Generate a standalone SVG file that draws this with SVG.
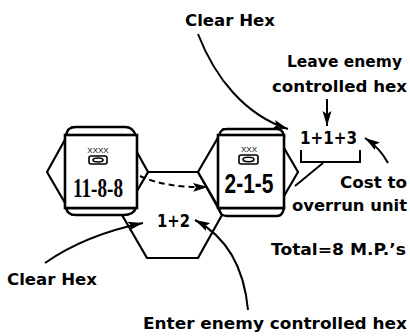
<svg xmlns="http://www.w3.org/2000/svg" width="410" height="336" viewBox="0 0 410 336">
<style>
.hex{fill:#fff;stroke:#000;stroke-width:2.2;stroke-linejoin:round}
.slab{fill:#fff;stroke:#000;stroke-width:2.4}
.ctr{fill:#fff;stroke:#000;stroke-width:2.6}
.lbl{font-family:"DejaVu Sans","Liberation Sans",sans-serif;font-weight:bold;font-size:16px;fill:#000}
.num{font-family:"DejaVu Sans","Liberation Sans",sans-serif;font-weight:bold;fill:#000}
.sz{font-family:"Liberation Sans",sans-serif;font-size:8px;fill:#000}
.sym{fill:#fff;stroke:#000;stroke-width:1.6}
.ln{fill:none;stroke:#000;stroke-width:2}
</style>
<defs>
<marker id="ah" markerUnits="userSpaceOnUse" markerWidth="16" markerHeight="10" refX="15" refY="5" orient="auto">
<path d="M0,0.5 L15,5 L0,9.5 L3,5 Z" fill="#000"/>
</marker>
</defs>

<g id="hex-middle">
<polygon class="hex" points="122,215 148,172 198,172 222,215 198,258 147,258"/>
</g>
<g id="hex-left">
<polygon class="hex" points="47,172 72,127 123,127 148,172 123,215 72,215"/>
</g>
<g id="hex-right">
<polygon class="hex" points="198,172 223,129 273,129 298,172 273,215 223,215"/>
</g>

<g id="counter-11-8-8">
<path class="slab" d="M66,136 C67,129 70,127 76,127 L125,127 C131,127 134,130 136,136 Z"/>
<path class="slab" d="M66,208 C67,213 70,215 76,215 L124,215 C130,215 134,213 136,208 Z"/>
<rect class="ctr" x="65" y="135" width="72" height="73"/>
<text class="sz" x="98" y="153" text-anchor="middle">XXXX</text>
<rect class="sym" x="89" y="156" width="18" height="8" rx="2"/>
<ellipse class="sym" cx="98" cy="160" rx="5" ry="2"/>
<text x="98" y="197" text-anchor="middle" font-family="'Liberation Serif',serif" font-weight="bold" font-size="28" textLength="50" lengthAdjust="spacingAndGlyphs">11-8-8</text>
</g>

<g id="counter-2-1-5">
<path class="slab" d="M219,136 C220,131 222,129 227,129 L277,129 C281,129 283,131 284,136 Z"/>
<path class="slab" d="M219,208 C220,214 222,216 227,216 L277,216 C281,216 283,214 284,208 Z"/>
<rect class="ctr" x="218" y="135" width="66" height="73"/>
<text class="sz" x="249" y="152" text-anchor="middle">XXX</text>
<rect class="sym" x="239" y="155" width="19" height="9" rx="2"/>
<ellipse class="sym" cx="248.5" cy="159.5" rx="5.5" ry="2.2"/>
<text x="249" y="193" text-anchor="middle" font-family="'Liberation Sans',sans-serif" font-weight="bold" font-size="27" textLength="49" lengthAdjust="spacingAndGlyphs">2-1-5</text>
</g>

<g id="connectors">
<path class="ln" d="M140,176 Q166,188 208,187" stroke-dasharray="6,4" marker-end="url(#ah)"/>
<path class="ln" d="M198,34 C215,78 245,115 288,129" marker-end="url(#ah)"/>
<path class="ln" d="M327,99 L327,126" marker-end="url(#ah)"/>
<path class="ln" d="M388,163 Q380,148 365,138" marker-end="url(#ah)"/>
<path class="ln" d="M301,150 L301,162 L360,162 L360,150"/>
<path class="ln" d="M323,163 L295,186"/>
<path class="ln" d="M45,263 Q85,235 143,223" marker-end="url(#ah)"/>
<path class="ln" d="M248,310 Q242,245 195,220" marker-end="url(#ah)"/>
</g>

<g id="labels">
<text class="lbl" x="185" y="26" textLength="90" lengthAdjust="spacingAndGlyphs">Clear Hex</text>
<text class="lbl" x="287" y="67" textLength="115" lengthAdjust="spacingAndGlyphs">Leave enemy</text>
<text class="lbl" x="272" y="92" textLength="135" lengthAdjust="spacingAndGlyphs">controlled hex</text>
<text class="num" x="300" y="144" font-size="18" textLength="57" lengthAdjust="spacingAndGlyphs">1+1+3</text>
<text class="lbl" x="340" y="188" textLength="67" lengthAdjust="spacingAndGlyphs">Cost to</text>
<text class="lbl" x="292" y="211" textLength="115" lengthAdjust="spacingAndGlyphs">overrun unit</text>
<text class="lbl" x="271" y="255" textLength="135" lengthAdjust="spacingAndGlyphs">Total=8 M.P.’s</text>
<text class="num" x="157" y="227" font-size="17" textLength="33" lengthAdjust="spacingAndGlyphs">1+2</text>
<text class="lbl" x="7" y="285" textLength="90" lengthAdjust="spacingAndGlyphs">Clear Hex</text>
<text class="lbl" x="143" y="329" textLength="264" lengthAdjust="spacingAndGlyphs">Enter enemy controlled hex</text>
</g>
</svg>
